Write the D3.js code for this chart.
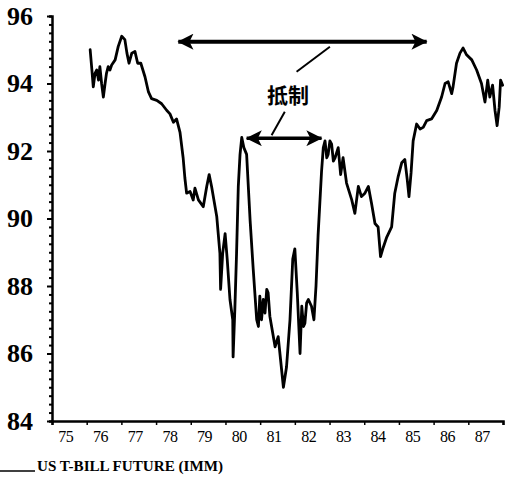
<!DOCTYPE html>
<html><head><meta charset="utf-8">
<script src="https://cdn.jsdelivr.net/npm/d3@7/dist/d3.min.js"></script>
<style>body{margin:0;background:#fff}svg{display:block}</style>
</head><body>
<svg id="chart" width="506" height="481"></svg>
<script>
// ---- data ----
const dates = [76.10,76.15,76.19,76.24,76.29,76.34,76.38,76.43,76.48,76.53,76.57,76.62,76.67,76.72,76.82,76.91,77.01,77.10,77.16,77.22,77.30,77.39,77.47,77.56,77.68,77.78,77.87,78.02,78.16,78.31,78.40,78.50,78.59,78.69,78.78,78.83,78.88,78.98,79.07,79.12,79.22,79.36,79.46,79.53,79.60,79.75,79.84,79.86,79.92,79.99,80.05,80.13,80.21,80.22,80.27,80.32,80.37,80.42,80.47,80.53,80.61,80.71,80.80,80.90,80.95,80.99,81.04,81.09,81.14,81.19,81.23,81.28,81.33,81.43,81.52,81.57,81.67,81.76,81.86,81.94,82.00,82.07,82.15,82.20,82.25,82.29,82.34,82.39,82.48,82.55,82.61,82.67,82.77,82.82,82.87,82.92,82.96,83.01,83.06,83.11,83.16,83.25,83.32,83.39,83.49,83.64,83.73,83.83,83.92,84.02,84.12,84.21,84.31,84.40,84.47,84.55,84.65,84.79,84.88,84.98,85.08,85.17,85.24,85.29,85.35,85.41,85.51,85.61,85.70,85.80,85.94,86.09,86.23,86.33,86.42,86.52,86.56,86.66,86.76,86.85,86.95,87.10,87.24,87.38,87.48,87.56,87.62,87.70,87.77,87.83,87.89,87.93,87.99];
const prices = [95.0,94.4,93.9,94.3,94.4,94.1,94.5,94.0,93.6,94.0,94.3,94.5,94.4,94.55,94.7,95.1,95.4,95.3,94.9,94.6,94.9,94.95,94.6,94.6,94.2,93.75,93.55,93.5,93.4,93.2,93.1,92.85,92.95,92.55,91.8,91.2,90.75,90.8,90.55,90.9,90.55,90.35,90.95,91.3,90.95,90.05,88.97,87.9,88.97,89.55,88.8,87.6,87.0,85.9,87.3,88.97,90.95,91.9,92.4,92.1,91.9,89.95,88.5,87.0,86.8,87.7,87.0,87.6,87.2,87.9,87.8,87.1,86.8,86.2,86.5,86.0,85.0,85.6,87.0,88.8,89.1,87.8,86.0,87.4,86.8,86.9,87.5,87.6,87.4,87.0,88.0,89.5,91.4,92.1,92.3,91.8,91.9,92.3,92.2,91.7,91.8,92.1,91.3,91.8,91.05,90.55,90.15,90.95,90.65,90.75,90.95,90.45,89.85,89.75,88.87,89.15,89.45,89.75,90.75,91.25,91.65,91.75,91.15,90.65,91.35,92.3,92.8,92.65,92.7,92.9,92.95,93.2,93.6,94.0,94.05,93.7,93.9,94.6,94.9,95.05,94.85,94.7,94.4,94.0,93.45,94.1,93.6,93.95,93.2,92.75,93.3,94.1,93.95];
const yTickValues = [84, 86, 88, 90, 92, 94, 96];
const xTickYears = [75,76,77,78,79,80,81,82,83,84,85,86,87,88];
const xLabelYears = [75,76,77,78,79,80,81,82,83,84,85,86,87];
const xTickLabels = ["75","76","77","78","79","80","81","82","83","84","85","86","87"];
const seriesName = "US T-BILL FUTURE (IMM)";
const annotationText = "抵制";
// annotation arrows in data coordinates [startYear, endYear, price]
const wideArrow = [78.64, 85.80, 95.24];
const narrowArrow = [80.61, 82.77, 92.38];
const annotationAnchor = [81.80, 93.69];
const leaderUp = [[82.05, 94.35], [83.01, 95.09]];
const leaderDown = [[81.71, 93.16], [81.33, 92.47]];

// ---- drawing ----
const svg = d3.select("#chart");
const x = d3.scaleLinear().domain([75, 88]).range([52, 503]);
const y = d3.scaleLinear().domain([84, 96]).range([421, 16]);
const serif = "'Liberation Serif','DejaVu Serif',serif";

// y axis
const yAxis = svg.append("g").attr("transform", "translate(52,0)")
  .call(d3.axisLeft(y).tickValues(d3.range(84, 96.001, 0.25))
    .tickSize(3).tickPadding(16)
    .tickFormat(d => yTickValues.includes(d) ? d3.format("d")(d) : ""));
yAxis.select(".domain").attr("stroke", "#000").attr("stroke-width", 2.5);
yAxis.selectAll(".tick line").attr("stroke", "#000").attr("stroke-width", 2);
yAxis.selectAll(".tick text").attr("font-family", serif).attr("font-size", 26)
  .attr("font-weight", "bold").attr("fill", "#000");
yAxis.selectAll(".tick").filter(d => yTickValues.includes(d)).select("line").attr("x2", -5);

// x axis (ticks)
const xAxis = svg.append("g").attr("transform", "translate(0,421)")
  .call(d3.axisBottom(x).tickValues(xTickYears).tickSize(4).tickFormat(""));
xAxis.select(".domain").attr("stroke", "#000").attr("stroke-width", 2.5);
xAxis.selectAll(".tick line").attr("stroke", "#000").attr("stroke-width", 1.5);

// x axis labels, centred within each year
const xLab = svg.append("g").attr("transform", "translate(-4,421)")
  .call(d3.axisBottom(x).tickValues(xLabelYears.map(v => v + 0.5)).tickSize(0).tickPadding(10)
    .tickFormat((d, i) => xTickLabels[i]));
xLab.select(".domain").remove();
xLab.selectAll(".tick text").attr("font-family", serif).attr("font-size", 16)
  .attr("fill", "#000").attr("letter-spacing", -0.5);

// price line
const line = d3.line().x((d, i) => x(dates[i])).y(d => y(d));
svg.append("path").datum(prices).attr("d", line)
  .attr("fill", "none").attr("stroke", "#000").attr("stroke-width", 2.8)
  .attr("stroke-linejoin", "round").attr("stroke-linecap", "round");

// arrowheads
const defs = svg.append("defs");
defs.append("marker").attr("id", "ah").attr("viewBox", "0 0 10 10")
  .attr("refX", 9.5).attr("refY", 5).attr("markerUnits", "userSpaceOnUse")
  .attr("markerWidth", 18).attr("markerHeight", 16).attr("orient", "auto-start-reverse")
  .append("path").attr("d", "M0,0 L10,5 L0,10 L2.5,5 Z").attr("fill", "#000");
function arrow(a, sw) {
  svg.append("line").attr("x1", x(a[0])).attr("x2", x(a[1]))
    .attr("y1", y(a[2])).attr("y2", y(a[2]))
    .attr("stroke", "#000").attr("stroke-width", sw)
    .attr("marker-start", "url(#ah)").attr("marker-end", "url(#ah)");
}
arrow(wideArrow, 4);
arrow(narrowArrow, 3.5);

// annotation text and leader strokes
svg.append("text").attr("x", x(annotationAnchor[0])).attr("y", y(annotationAnchor[1]))
  .attr("text-anchor", "middle").attr("dominant-baseline", "central")
  .attr("font-family", "'Noto Sans CJK SC',sans-serif").attr("font-size", 21)
  .attr("font-weight", "bold").attr("fill", "#000").text(annotationText);
[leaderUp, leaderDown].forEach(seg => {
  svg.append("line").attr("x1", x(seg[0][0])).attr("y1", y(seg[0][1]))
    .attr("x2", x(seg[1][0])).attr("y2", y(seg[1][1]))
    .attr("stroke", "#000").attr("stroke-width", 2);
});

// series caption
svg.append("line").attr("x1", 0).attr("x2", 35).attr("y1", 471).attr("y2", 471)
  .attr("stroke", "#000").attr("stroke-width", 1.5);
svg.append("text").attr("x", 37).attr("y", 471)
  .attr("font-family", serif).attr("font-size", 15).attr("font-weight", "bold")
  .attr("textLength", 186).attr("lengthAdjust", "spacingAndGlyphs")
  .attr("fill", "#000").text(seriesName);
</script>
</body></html>
